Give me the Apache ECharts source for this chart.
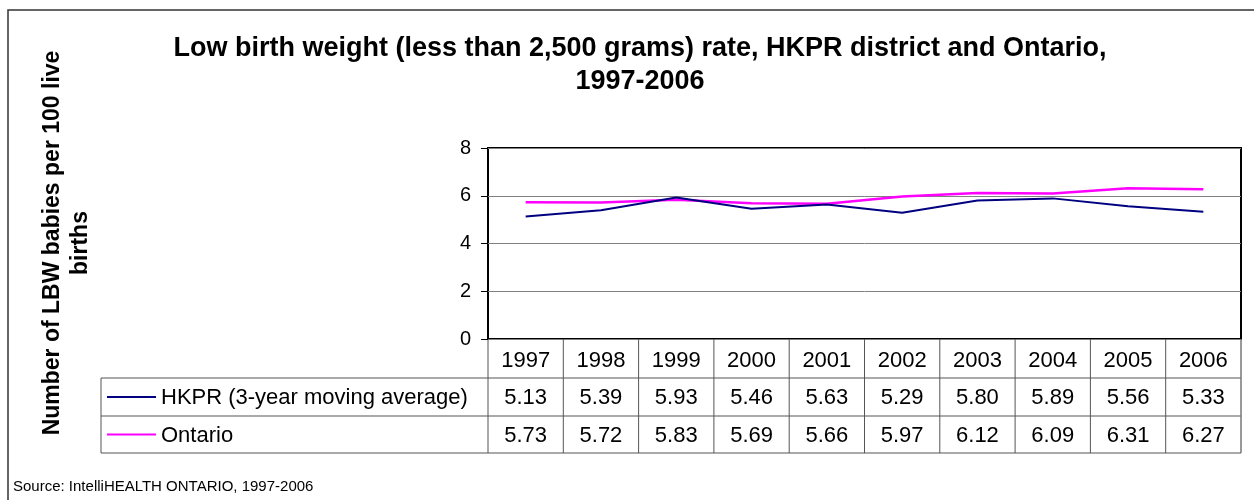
<!DOCTYPE html>
<html>
<head>
<meta charset="utf-8">
<script src="https://cdn.jsdelivr.net/npm/echarts@6/dist/echarts.min.js"></script>
<style>
  html, body { margin: 0; padding: 0; background: #fff; }
  #chart { width: 1254px; height: 500px; }
</style>
</head>
<body>
<div id="chart"></div>
<script>
const years = ['1997', '1998', '1999', '2000', '2001', '2002', '2003', '2004', '2005', '2006'];
const hkpr = [5.13, 5.39, 5.93, 5.46, 5.63, 5.29, 5.80, 5.89, 5.56, 5.33];
const ontario = [5.73, 5.72, 5.83, 5.69, 5.66, 5.97, 6.12, 6.09, 6.31, 6.27];
const seriesNames = ['HKPR (3-year moving average)', 'Ontario'];
const seriesColors = ['#000080', '#ff00ff'];
const yTicks = [0, 2, 4, 6, 8];

const FONT = 'Liberation Sans, Arial, sans-serif';
const GRID = { left: 488, top: 148, width: 753, height: 191 };

const chart = echarts.init(document.getElementById('chart'));

chart.setOption({
    animation: false,
    textStyle: { fontFamily: FONT },
    title: {
        text: 'Low birth weight (less than 2,500 grams) rate, HKPR district and Ontario,\n1997-2006',
        left: 635,
        top: 27,
        textAlign: 'center',
        textStyle: { fontSize: 27, fontWeight: 'bold', color: '#000', lineHeight: 33, fontFamily: FONT }
    },
    grid: {
        left: GRID.left, top: GRID.top, width: GRID.width, height: GRID.height,
        show: true, borderColor: '#000', borderWidth: 2, backgroundColor: 'transparent'
    },
    xAxis: {
        type: 'category',
        data: years,
        boundaryGap: true,
        axisLine: { show: false },
        axisTick: { show: false },
        axisLabel: { show: false }
    },
    yAxis: {
        type: 'value',
        min: yTicks[0],
        max: yTicks[yTicks.length - 1],
        interval: 2,
        axisLine: { show: false },
        axisTick: { show: true, length: 7, lineStyle: { color: '#000', width: 1 } },
        axisLabel: { margin: 17, fontSize: 20, color: '#000', fontFamily: FONT },
        splitLine: { lineStyle: { color: '#808080', width: 1 } }
    },
    series: [
        { name: seriesNames[0], type: 'line', data: hkpr, showSymbol: false, lineStyle: { color: seriesColors[0], width: 2 }, z: 3 },
        { name: seriesNames[1], type: 'line', data: ontario, showSymbol: false, lineStyle: { color: seriesColors[1], width: 2.5 }, z: 2 }
    ]
});

// data table underneath the plot, laid out on the category axis
function buildTable() {
    const els = [];
    const rowTop = [339, 378, 416, 453];
    const tableLeft = 101;
    const colW = GRID.width / years.length;
    const right = GRID.left + GRID.width;
    const lineStyle = { stroke: '#555', lineWidth: 1 };
    const cellFont = 22;

    // horizontal rules
    [rowTop[1], rowTop[2], rowTop[3]].forEach(y => {
        els.push({ type: 'line', shape: { x1: tableLeft, y1: y, x2: right, y2: y }, style: lineStyle });
    });
    els.push({ type: 'line', shape: { x1: tableLeft, y1: rowTop[1], x2: tableLeft, y2: rowTop[3] }, style: lineStyle });

    years.forEach((yr, i) => {
        const cx = chart.convertToPixel({ xAxisIndex: 0 }, yr);
        const x0 = cx - colW / 2;
        els.push({ type: 'line', shape: { x1: x0, y1: rowTop[0], x2: x0, y2: rowTop[3] }, style: lineStyle });
        els.push({ type: 'text', x: cx, y: (rowTop[0] + rowTop[1]) / 2 + 2,
            style: { text: yr, fontSize: cellFont, fontFamily: FONT, fill: '#000', align: 'center', verticalAlign: 'middle' } });
        [hkpr, ontario].forEach((vals, r) => {
            els.push({ type: 'text', x: cx, y: (rowTop[r + 1] + rowTop[r + 2]) / 2 + 1,
                style: { text: vals[i].toFixed(2), fontSize: cellFont, fontFamily: FONT, fill: '#000', align: 'center', verticalAlign: 'middle' } });
        });
    });
    els.push({ type: 'line', shape: { x1: right, y1: rowTop[0], x2: right, y2: rowTop[3] }, style: { stroke: '#777', lineWidth: 1.5 } });

    // legend keys in first column
    seriesNames.forEach((name, r) => {
        const cy = (rowTop[r + 1] + rowTop[r + 2]) / 2;
        els.push({ type: 'line', shape: { x1: 107, y1: cy, x2: 156, y2: cy }, style: { stroke: seriesColors[r], lineWidth: 2 } });
        els.push({ type: 'text', x: 161, y: cy + 1,
            style: { text: name, fontSize: cellFont, fontFamily: FONT, fill: '#000', align: 'left', verticalAlign: 'middle' } });
    });

    // y axis title
    els.push({ type: 'text', x: 53, y: 243, rotation: Math.PI / 2,
        style: { text: 'Number of LBW babies per 100 live', fontSize: 23, fontWeight: 'bold', fontFamily: FONT, fill: '#000', align: 'center', verticalAlign: 'middle' } });
    els.push({ type: 'text', x: 81, y: 243, rotation: Math.PI / 2,
        style: { text: 'births', fontSize: 23, fontWeight: 'bold', fontFamily: FONT, fill: '#000', align: 'center', verticalAlign: 'middle' } });

    // source note
    els.push({ type: 'text', x: 13, y: 487,
        style: { text: 'Source: IntelliHEALTH ONTARIO, 1997-2006', fontSize: 15, fontFamily: FONT, fill: '#000', align: 'left', verticalAlign: 'middle' } });

    // outer frame
    els.push({ type: 'rect', shape: { x: 8, y: 10, width: 1260, height: 510 }, style: { fill: 'none', stroke: '#333', lineWidth: 1.5 } });

    chart.setOption({ graphic: { elements: els } });
}

buildTable();
</script>
</body>
</html>
